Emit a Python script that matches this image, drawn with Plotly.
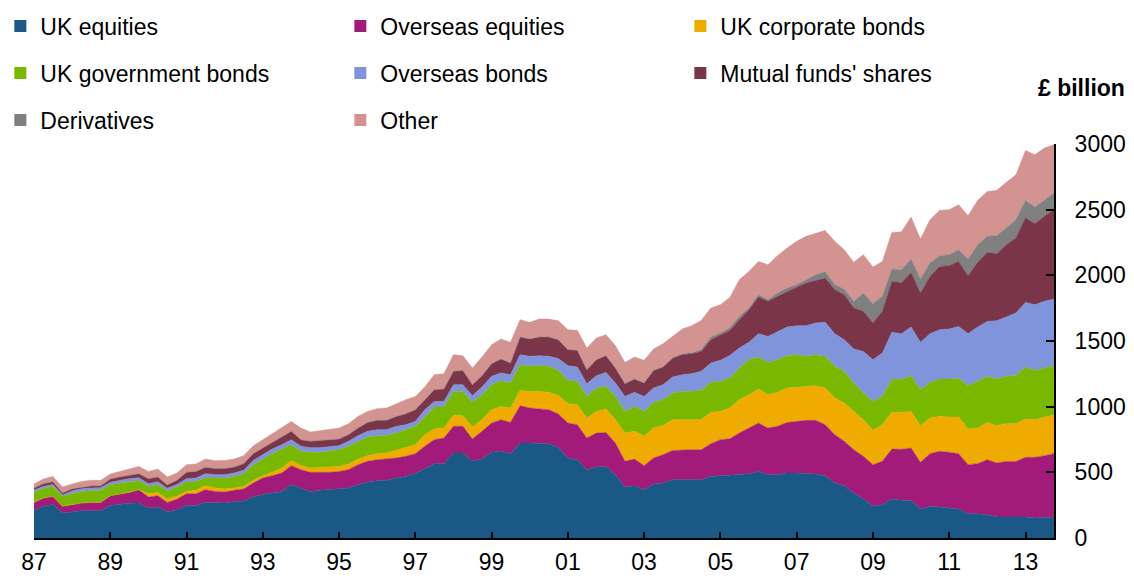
import pandas as pd
import plotly.graph_objects as go

# quarterly, 1987 Q1 to 2013 Q4 (£ billion)
quarters = pd.period_range("1987Q1", "2013Q4", freq="Q").to_timestamp()

uk_equities = [
    210, 241, 256, 190, 198, 208, 208, 208, 248, 256, 264, 266, 228, 236, 200, 215, 248, 248, 271,
    271, 266, 276, 282, 312, 332, 342, 355, 406, 378, 355, 363, 368, 373, 381, 406, 426, 436, 439,
    457, 469, 495, 525, 566, 566, 647, 647, 586, 601, 652, 662, 642, 723, 723, 718, 718, 689,
    609, 596, 520, 540, 545, 482, 388, 398, 368, 411, 419, 444, 444, 444, 444, 469, 474, 480,
    482, 490, 507, 482, 482, 495, 495, 490, 487, 474, 419, 398, 342, 297, 241, 254, 297, 287,
    286, 221, 241, 236, 228, 221, 185, 185, 177, 160, 160, 160, 160, 152, 157, 160]
overseas_equities = [
    61, 63, 61, 51, 56, 58, 63, 63, 74, 76, 83, 102, 84, 86, 71, 81, 89, 89, 97,
    84, 84, 87, 91, 107, 125, 132, 140, 145, 142, 145, 137, 132, 134, 139, 152, 158, 160, 162,
    152, 153, 147, 173, 182, 195, 203, 203, 168, 211, 223, 239, 238, 284, 267, 264, 259, 256,
    266, 267, 241, 259, 259, 241, 196, 203, 183, 198, 215, 223, 228, 228, 228, 249, 275, 275,
    317, 347, 368, 355, 368, 385, 393, 406, 409, 389, 368, 338, 330, 325, 317, 330, 380, 388,
    399, 355, 401, 424, 424, 421, 373, 381, 419, 411, 423, 423, 454, 462, 470, 482]
uk_corporate_bonds = [
    0, 0, 0, 0, 0, 0, 0, 0, 0, 0, 0, 0, 25, 25, 26, 21, 18, 26, 30,
    26, 23, 18, 20, 20, 17, 26, 38, 38, 31, 33, 38, 40, 38, 41, 43, 43, 46, 46,
    58, 63, 68, 89, 82, 76, 84, 81, 91, 89, 102, 101, 110, 117, 126, 134, 132, 140,
    148, 152, 153, 165, 178, 178, 215, 211, 223, 228, 221, 234, 229, 229, 229, 239, 215, 235,
    254, 254, 259, 254, 259, 262, 261, 258, 264, 279, 279, 292, 292, 279, 262, 279, 280, 280,
    279, 279, 271, 266, 269, 279, 272, 271, 284, 284, 287, 287, 292, 287, 294, 294]
uk_gov_bonds = [
    76, 74, 76, 76, 83, 89, 89, 92, 84, 86, 82, 68, 56, 59, 63, 71, 71, 68, 59,
    76, 81, 88, 97, 119, 127, 142, 144, 121, 109, 119, 114, 120, 127, 137, 135, 142, 137, 135,
    132, 140, 140, 134, 167, 160, 182, 185, 188, 190, 190, 198, 190, 196, 191, 196, 198, 193,
    177, 178, 164, 178, 173, 177, 165, 190, 190, 196, 198, 203, 216, 216, 223, 228, 229, 228,
    241, 267, 244, 246, 249, 246, 247, 229, 236, 241, 241, 241, 216, 203, 220, 216, 253, 253,
    272, 274, 272, 284, 289, 297, 330, 356, 351, 355, 361, 368, 396, 375, 373, 376]
overseas_bonds = [
    18, 15, 15, 10, 21, 20, 20, 20, 18, 21, 23, 23, 20, 23, 18, 20, 26, 25, 33,
    25, 28, 26, 25, 33, 33, 35, 33, 38, 38, 36, 36, 33, 31, 38, 43, 43, 46, 43,
    51, 38, 38, 56, 43, 43, 51, 51, 51, 59, 64, 56, 63, 76, 76, 76, 76, 88,
    112, 109, 97, 94, 106, 102, 114, 107, 114, 109, 114, 122, 126, 134, 145, 147, 160, 172,
    152, 132, 177, 198, 215, 218, 220, 233, 241, 259, 248, 241, 259, 317, 318, 329, 356, 348,
    370, 361, 371, 376, 381, 393, 396, 413, 418, 444, 451, 475, 492, 500, 508, 507]
mutual_funds = [
    15, 20, 21, 15, 17, 13, 16, 15, 25, 25, 27, 31, 39, 35, 25, 31, 48, 51, 48,
    48, 48, 45, 51, 51, 51, 51, 59, 64, 50, 48, 55, 55, 51, 51, 58, 68, 71, 71,
    76, 83, 89, 76, 89, 94, 102, 109, 83, 86, 96, 107, 89, 134, 132, 142, 147, 144,
    122, 127, 107, 122, 127, 114, 97, 101, 102, 134, 135, 144, 153, 152, 152, 178, 195, 190,
    216, 248, 280, 267, 267, 272, 294, 325, 323, 337, 336, 343, 312, 305, 279, 318, 388, 388,
    416, 375, 436, 482, 482, 495, 441, 493, 526, 511, 551, 571, 645, 617, 648, 681]
derivatives = [0] * 68 + [
    7, 7, 12, 20, 13, 20,
    26, 13, 18, 13, 25, 25, 19, 26, 45, 51, 38, 43, 51, 139, 147, 114, 94, 99,
    102, 107, 102, 81, 84, 89, 127, 134, 122, 137, 127, 140, 131, 127, 121, 127]
other = [
    31, 36, 40, 46, 36, 43, 43, 41, 38, 43, 46, 55, 55, 61, 61, 56, 58, 56, 63,
    59, 61, 61, 61, 61, 63, 66, 76, 76, 89, 71, 74, 77, 83, 83, 89, 84, 89, 94,
    97, 107, 101, 97, 114, 117, 127, 112, 127, 142, 145, 152, 158, 132, 127, 137, 137, 144,
    152, 152, 164, 165, 160, 170, 162, 168, 173, 163, 177, 165, 188, 207, 224, 221, 215, 232,
    279, 279, 253, 266, 284, 305, 330, 330, 317, 312, 330, 299, 297, 292, 279, 266, 279, 288,
    320, 304, 330, 346, 343, 343, 330, 338, 342, 345, 348, 342, 381, 398, 398, 368]

series = [
    ("UK equities", uk_equities, "#1a5886", "legend"),
    ("Overseas equities", overseas_equities, "#a21a7a", "legend"),
    ("UK corporate bonds", uk_corporate_bonds, "#efab00", "legend"),
    ("UK government bonds", uk_gov_bonds, "#79b800", "legend2"),
    ("Overseas bonds", overseas_bonds, "#8094dc", "legend2"),
    ("Mutual funds' shares", mutual_funds, "#7a3549", "legend2"),
    ("Derivatives", derivatives, "#808080", "legend3"),
    ("Other", other, "#d29391", "legend3"),
]

year_ticks = pd.to_datetime([f"{y}-01-01" for y in range(1987, 2014, 2)])
year_labels = [str(y)[2:] for y in range(1987, 2014, 2)]

fig = go.Figure()

for name, vals, color, _ in series:
    fig.add_trace(go.Scatter(
        x=quarters, y=vals, name=name, stackgroup="one",
        mode="lines", line=dict(width=0.5, color=color),
        fillcolor=color, showlegend=False, hoverinfo="x+y+name"
    ))

# square legend keys
for name, vals, color, leg in series:
    fig.add_trace(go.Scatter(
        x=[None], y=[None], mode="markers", name=name, legend=leg,
        marker=dict(symbol="square", size=12, color=color)
    ))

font = dict(family="Arial, Liberation Sans, sans-serif", size=23, color="black")
leg_common = dict(orientation="h", xanchor="left", yanchor="middle",
                  x=-0.033, entrywidth=295, entrywidthmode="pixels",
                  traceorder="normal", font=font,
                  bgcolor="rgba(0,0,0,0)", itemclick=False)

# page body keeps its default 8px margin, so the figure is 8px smaller each way
fig.update_layout(
    width=1126, height=571,
    margin=dict(l=26, r=80, t=136, b=41, autoexpand=False),
    paper_bgcolor="white", plot_bgcolor="white",
    font=font,
    legend=dict(leg_common, y=1.2995),
    legend2=dict(leg_common, y=1.1802),
    legend3=dict(leg_common, y=1.0609),
    xaxis=dict(
        range=[quarters[0], quarters[-1]], tickvals=year_ticks, ticktext=year_labels,
        showgrid=False, zeroline=False, showline=True, linecolor="black", linewidth=2,
        ticks="inside", ticklen=6, tickwidth=2, tickcolor="black",
        ticklabelstandoff=2, tickfont=font
    ),
    yaxis=dict(
        range=[0, 3000], side="right", tickvals=[0, 500, 1000, 1500, 2000, 2500, 3000],
        showgrid=False, zeroline=False, showline=True, linecolor="black", linewidth=2,
        ticks="inside", ticklen=8, tickwidth=2, tickcolor="black",
        ticklabelstandoff=14, tickfont=font
    ),
    annotations=[dict(
        text="<b>£ billion</b>", xref="paper", yref="paper",
        x=1.0715, y=1.142, xanchor="right", yanchor="middle",
        showarrow=False, font=font
    )],
)

fig.write_html("out.html")
